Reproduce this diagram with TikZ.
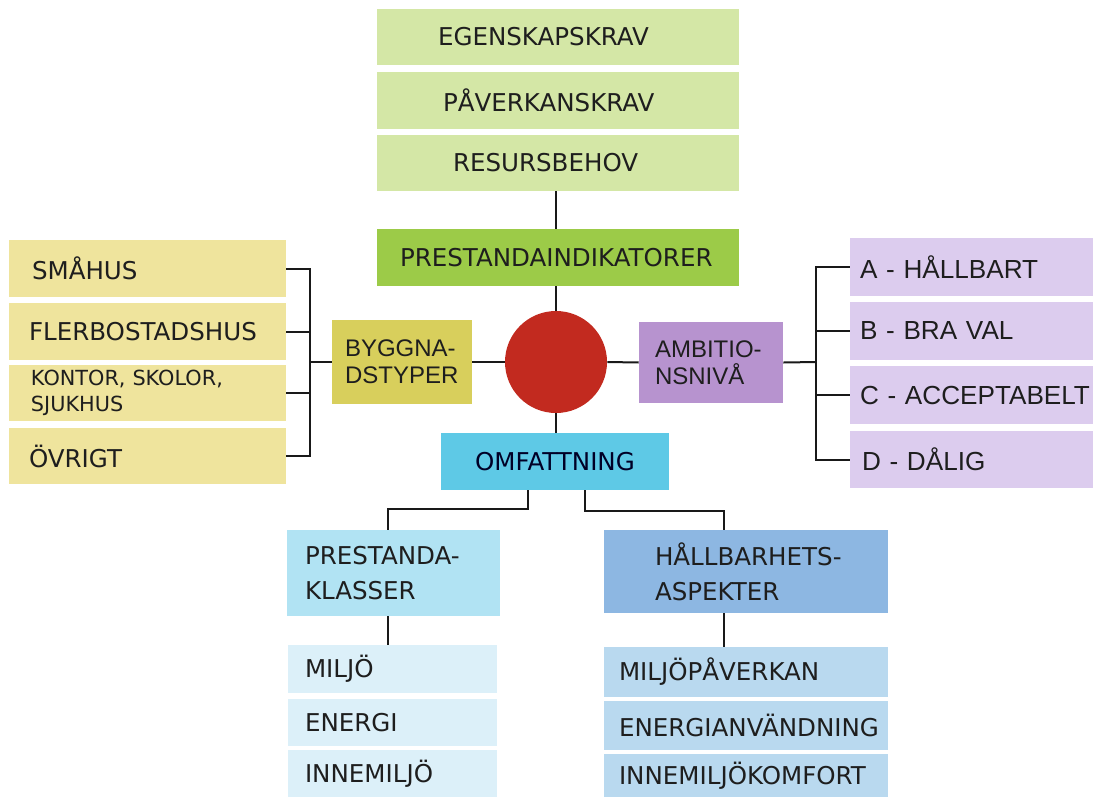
\documentclass[tikz,border=0pt]{standalone}
\usepackage{fontspec}
\setmainfont{DejaVu Sans}
\newfontfamily\arialf{Liberation Sans}
\usetikzlibrary{calc}
\hyphenpenalty=10000
\exhyphenpenalty=10000
\def\pxu{0.75pt}
\definecolor{topg}{HTML}{D4E7A6}
\definecolor{prestg}{HTML}{9CCB48}
\definecolor{paley}{HTML}{EFE49D}
\definecolor{byggy}{HTML}{D8CF5C}
\definecolor{ambp}{HTML}{B793CF}
\definecolor{lavr}{HTML}{DCCCEE}
\definecolor{omfc}{HTML}{5EC9E6}
\definecolor{pkc}{HTML}{B1E3F3}
\definecolor{hac}{HTML}{8DB7E2}
\definecolor{milc}{HTML}{DCF0F9}
\definecolor{hmc}{HTML}{B9D9EF}
\definecolor{redc}{HTML}{C22A1F}
\definecolor{txt}{HTML}{1E1E1E}
% \bx{name}{x1}{y1}{x2}{y2}{pad}{style}{text}
\newcommand\bx[8]{\node[basebox,#7,
  minimum width={(#4-#2)*\pxu}, minimum height={(#5-#3)*\pxu},
  text width={(#4-#2-2*#6)*\pxu}, inner xsep={#6*\pxu}]
  (#1) at ({(#2+#4)/2},{(#3+#5)/2}) {#8};}
\begin{document}
\begin{tikzpicture}[x=0.75pt,y=-0.75pt,
  basebox/.style={draw=none, inner ysep=0pt, align=left, text=txt},
  vfont/.style={font=\fontsize{18.4}{26}\selectfont},
  sfont/.style={font=\fontsize{15.6}{20}\selectfont},
  afont/.style={font=\arialf\fontsize{18}{20.5}\selectfont},
  rfont/.style={font=\arialf\fontsize{19.6}{22}\selectfont},
  topbox/.style={vfont, fill=topg},
  prestbox/.style={vfont, fill=prestg},
  lbox/.style={vfont, fill=paley},
  lboxs/.style={sfont, fill=paley},
  byggbox/.style={afont, fill=byggy},
  ambbox/.style={afont, fill=ambp},
  rbox/.style={rfont, fill=lavr},
  omfbox/.style={vfont, fill=omfc, align=center, text=black!85!blue},
  pkbox/.style={vfont, fill=pkc},
  habox/.style={vfont, fill=hac},
  milbox/.style={vfont, fill=milc},
  hmbox/.style={vfont, fill=hmc},
  conn/.style={draw=black!90, line width=1.5pt}]
\useasboundingbox (0,0) rectangle (1093,797);
% top
\bx{egen}{377}{9}{739}{65}{61}{topbox}{EGENSKAPSKRAV}
\bx{paver}{377}{72}{739}{129}{66}{topbox}{PÅVERKANSKRAV}
\bx{resurs}{377}{135}{739}{191}{76}{topbox}{RESURSBEHOV}
\bx{prest}{377}{229}{739}{286}{23}{prestbox}{PRESTANDAINDIKATORER}
\node[circle, fill=redc, minimum size={102*\pxu}, inner sep=0pt] (circ) at (556,362) {};
\bx{omf}{441}{433}{669}{490}{10}{omfbox}{OMFATTNING}
% left
\bx{smahus}{9}{240}{286}{297}{23}{lbox}{SMÅHUS}
\bx{fler}{9}{303}{286}{360}{20}{lbox}{FLERBOSTADSHUS}
\bx{kontor}{9}{365}{286}{421}{22}{lboxs}{KONTOR, SKOLOR,\\SJUKHUS}
\bx{ovrigt}{9}{428}{286}{484}{20}{lbox}{ÖVRIGT}
\bx{bygg}{332}{320}{472}{404}{13}{byggbox}{BYGGNA-\\DSTYPER}
% right
\bx{amb}{639}{322}{783}{403}{16}{ambbox}{AMBITIO-\\NSNIVÅ}
\bx{a}{850}{238}{1093}{296}{10}{rbox}{A~-~HÅLLBART}
\bx{b}{850}{302}{1093}{360}{10}{rbox}{B~-~BRA~VAL}
\bx{c}{850}{366}{1093}{424}{10}{rbox}{C~-~ACCEPTABELT}
\bx{d}{850}{431}{1093}{488}{12}{rbox}{D~-~DÅLIG}
% bottom
\bx{pk}{287}{530}{500}{616}{18}{pkbox}{PRESTANDA-\\KLASSER}
\bx{ha}{604}{530}{888}{613}{51}{habox}{HÅLLBARHETS-\\ASPEKTER}
\bx{miljo}{288}{645}{497}{693}{17}{milbox}{MILJÖ}
\bx{energi}{288}{699}{497}{746}{17}{milbox}{ENERGI}
\bx{inne}{288}{750}{497}{797}{17}{milbox}{INNEMILJÖ}
\bx{mp}{604}{647}{888}{697}{15}{hmbox}{MILJÖPÅVERKAN}
\bx{ea}{604}{701}{888}{750}{15}{hmbox}{ENERGIANVÄNDNING}
\bx{ik}{604}{754}{888}{797}{15}{hmbox}{INNEMILJÖKOMFORT}
% connectors
\draw[conn] (resurs.south -| circ) -- (prest.north -| circ);
\draw[conn] (prest.south -| circ) -- (circ.north);
\draw[conn] (circ.south) -- (omf.north -| circ);
\draw[conn] (bygg.east) -- (circ.west);
\draw[conn] (circ.east) -- (amb.west);
\coordinate (lb) at (310,362);
\draw[conn] (bygg.west) -- (lb);
\draw[conn] (smahus.east) -| (lb |- ovrigt.east) -- (ovrigt.east);
\draw[conn] (fler.east) -- (fler.east -| lb);
\draw[conn] (kontor.east) -- (kontor.east -| lb);
\coordinate (rb) at (816,362);
\draw[conn] (amb.east) -- (rb);
\draw[conn] (a.west) -| (rb |- d.west) -- (d.west);
\draw[conn] (b.west) -- (b.west -| rb);
\draw[conn] (c.west) -- (c.west -| rb);
\coordinate (pkt) at ($(pk.north)+(-6,0)$);
\coordinate (hat) at ($(ha.north)+(-22,0)$);
\draw[conn] ($(omf.south)+(-27,0)$) -- ++(0,19) -| (pkt);
\draw[conn] ($(omf.south)+(30,0)$) -- ++(0,21) -| (hat);
\coordinate (pkb) at ($(pk.south)+(-6,0)$);
\coordinate (hab) at ($(ha.south)+(-22,0)$);
\draw[conn] (pkb) -- (pkb |- miljo.north);
\draw[conn] (hab) -- (hab |- mp.north);
\end{tikzpicture}
\end{document}
